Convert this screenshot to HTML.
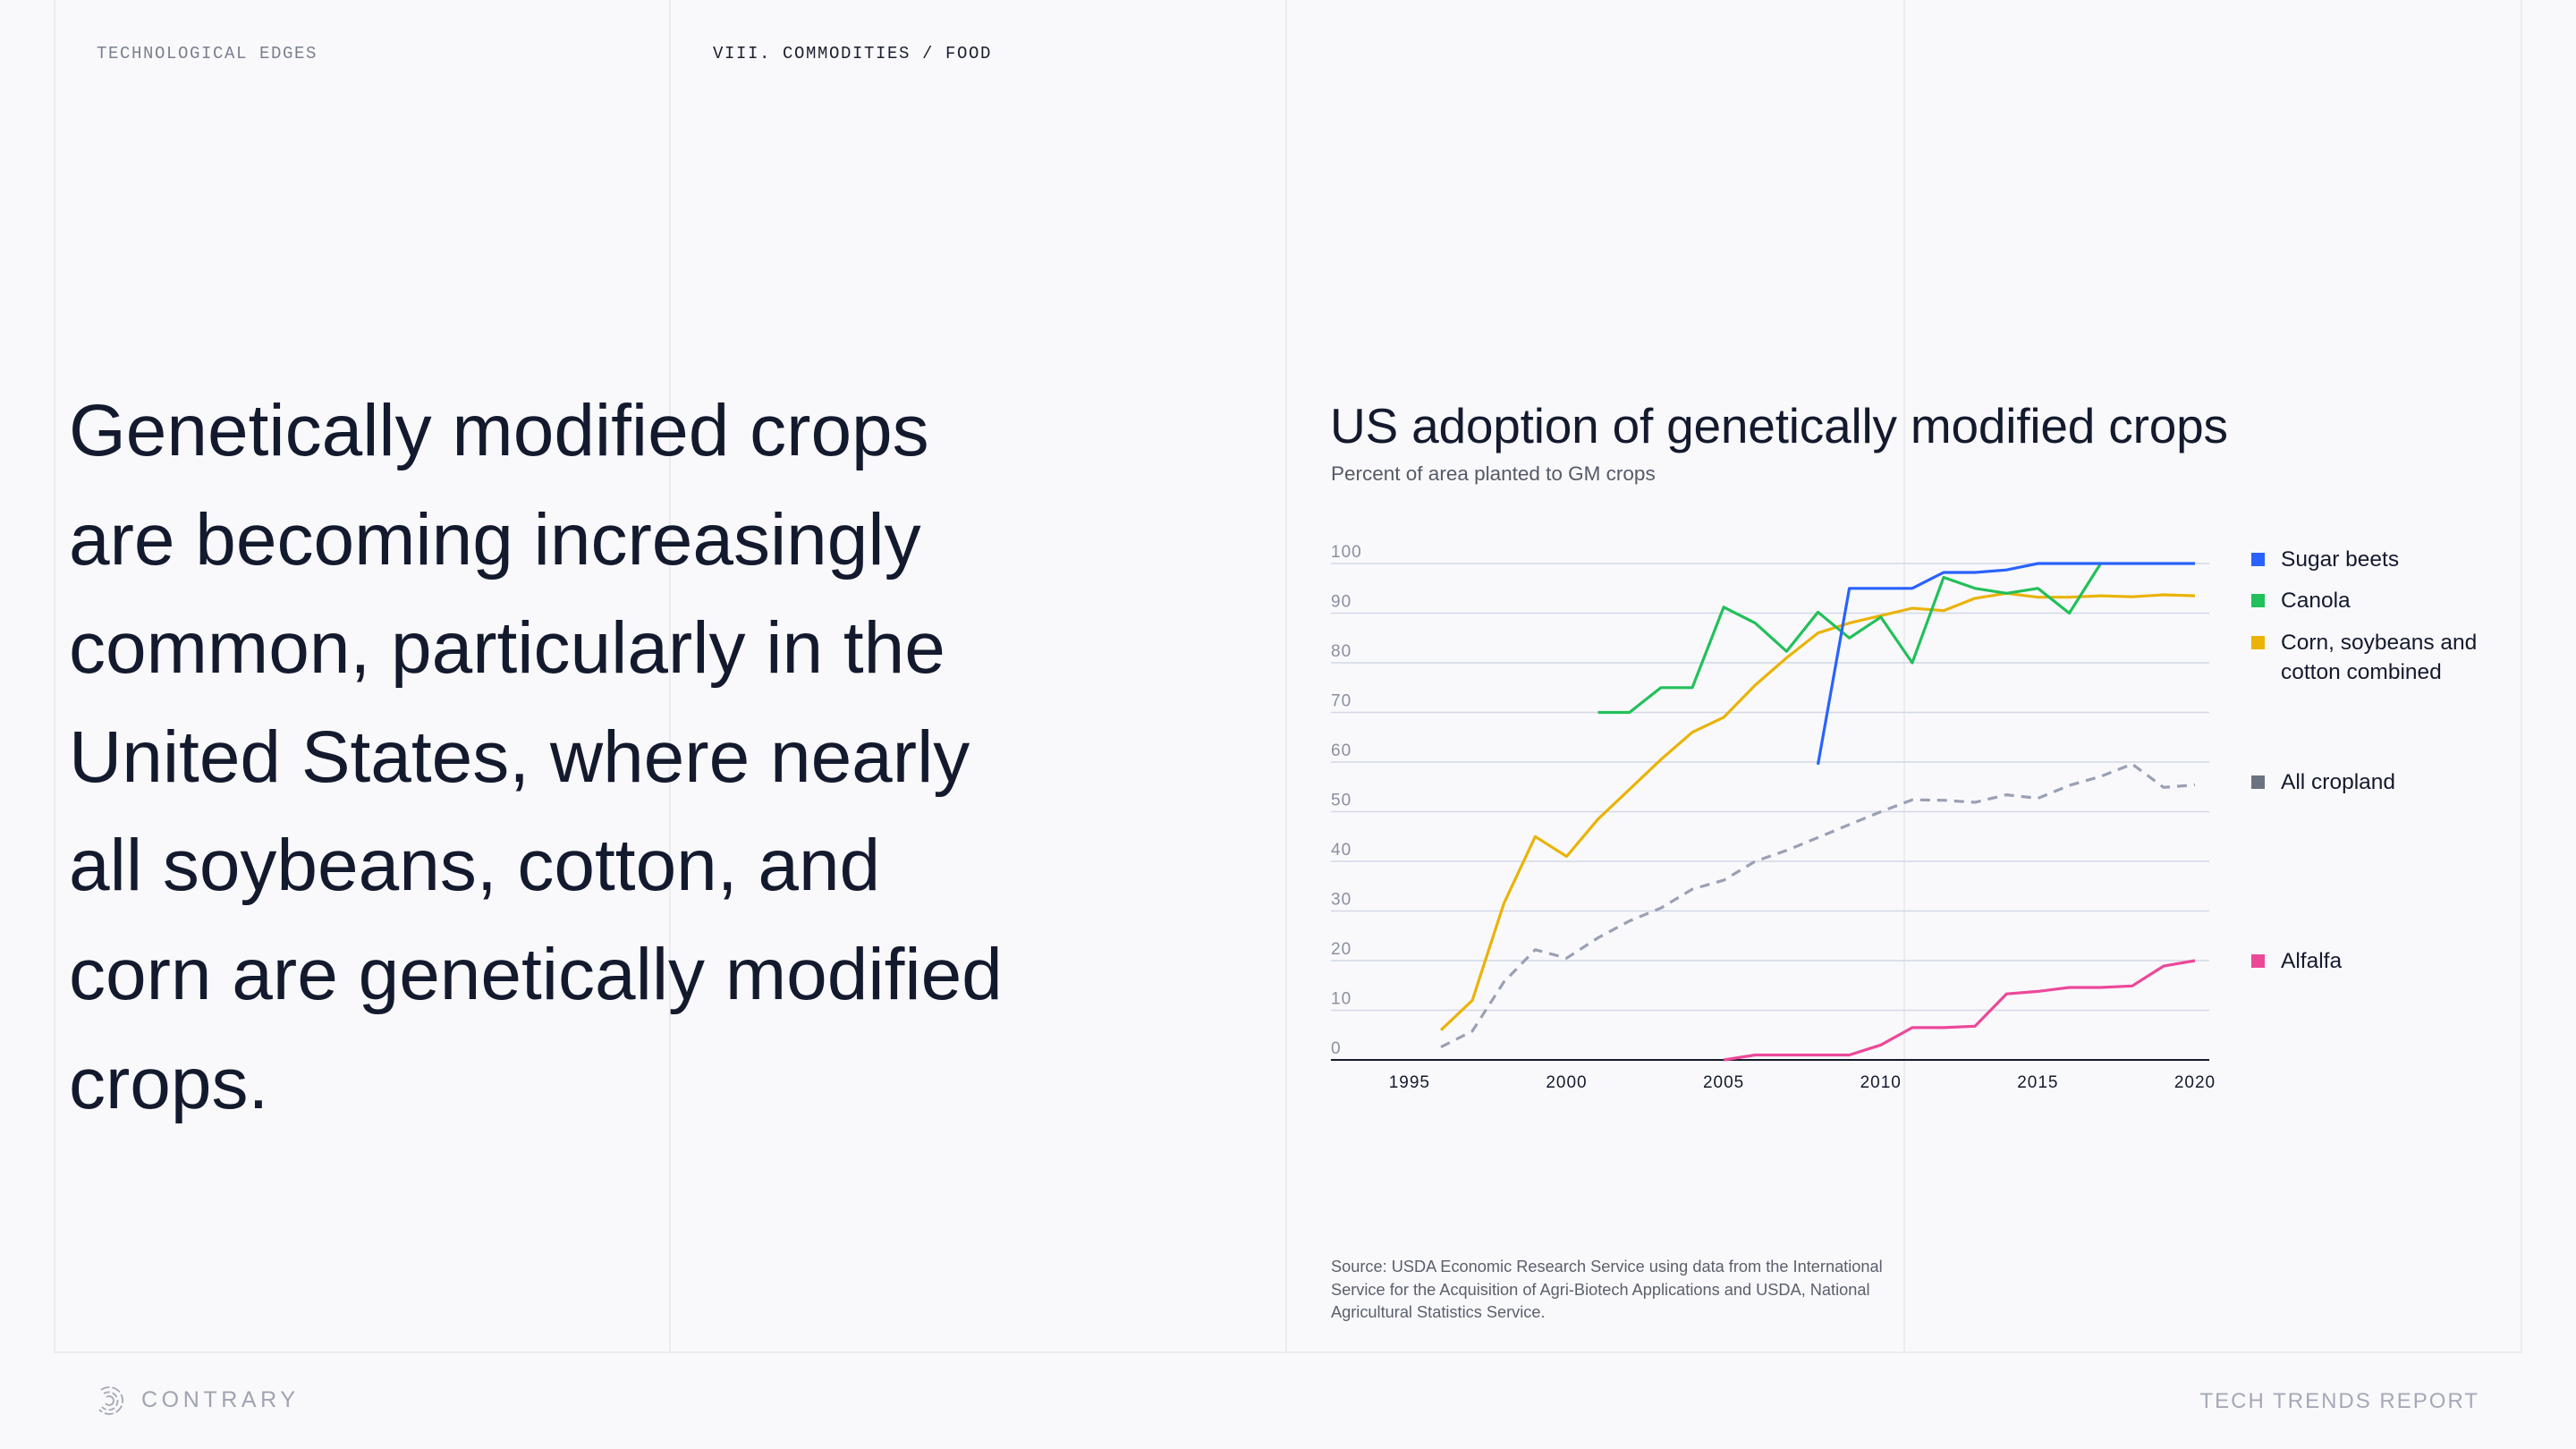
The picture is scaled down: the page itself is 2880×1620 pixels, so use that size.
<!DOCTYPE html>
<html><head><meta charset="utf-8">
<style>
html,body{margin:0;padding:0;}
body{width:2880px;height:1620px;background:#f9f9fb;position:relative;overflow:hidden;font-family:"Liberation Sans",sans-serif;color:#141a2e;}
.vl{position:absolute;top:0;width:2px;height:1512px;background:#ececf0;}
.hdr{position:absolute;top:49px;font-family:"Liberation Mono",monospace;font-size:19px;letter-spacing:1.6px;}
.headline{position:absolute;left:77px;top:421px;font-size:82px;line-height:121.6px;letter-spacing:0;color:#141a2e;margin:0;font-weight:normal;}
.leg{position:absolute;left:2550px;font-size:24.5px;line-height:33px;color:#141a2e;}
.sq{position:absolute;left:2517px;width:15px;height:15px;}
</style></head>
<body>
<div class="vl" style="left:60px"></div>
<div class="vl" style="left:748px"></div>
<div class="vl" style="left:1437px"></div>
<div class="vl" style="left:2128px"></div>
<div class="vl" style="left:2818px"></div>
<div style="position:absolute;left:60px;top:1511px;width:2760px;height:2px;background:#ececf0"></div>

<div class="hdr" style="left:108px;color:#7b8090">TECHNOLOGICAL EDGES</div>
<div class="hdr" style="left:797px;color:#1c2030">VIII. COMMODITIES / FOOD</div>

<h1 class="headline">Genetically modified crops<br>are becoming increasingly<br>common, particularly in the<br>United States, where nearly<br>all soybeans, cotton, and<br>corn are genetically modified<br>crops.</h1>

<div style="position:absolute;left:1487px;top:444px;font-size:55px;color:#141a2e;letter-spacing:-0.2px">US adoption of genetically modified crops</div>
<div style="position:absolute;left:1488px;top:517px;font-size:22.5px;color:#555a68">Percent of area planted to GM crops</div>

<svg id="chart" style="position:absolute;left:0;top:0" width="2880" height="1620"></svg>

<div class="sq" style="top:618px;background:#2962ff"></div>
<div class="leg" style="top:609px">Sugar beets</div>
<div class="sq" style="top:664px;background:#22c05a"></div>
<div class="leg" style="top:655px">Canola</div>
<div class="sq" style="top:711px;background:#eab308"></div>
<div class="leg" style="top:702px">Corn, soybeans and<br>cotton combined</div>
<div class="sq" style="top:867px;background:#6b7280"></div>
<div class="leg" style="top:858px">All cropland</div>
<div class="sq" style="top:1067px;background:#ec4899"></div>
<div class="leg" style="top:1058px">Alfalfa</div>

<div style="position:absolute;left:1488px;top:1404px;font-size:18.2px;line-height:25.7px;color:#5a5f6c">Source: USDA Economic Research Service using data from the International<br>Service for the Acquisition of Agri-Biotech Applications and USDA, National<br>Agricultural Statistics Service.</div>

<svg style="position:absolute;left:105px;top:1548px" width="36" height="36" viewBox="0 0 36 36">
<g fill="none" stroke="#a5a8b6" stroke-width="1.8">
<path d="M8 6 A15 15 0 1 1 6 28" stroke-dasharray="10 3"/>
<path d="M11 10 A10 10 0 1 1 9 25" stroke-dasharray="7 3"/>
<path d="M14 14 A5 5 0 1 1 13 21"/>
</g></svg>
<div style="position:absolute;left:158px;top:1551px;font-size:25px;letter-spacing:4.6px;color:#a0a3b1">CONTRARY</div>
<div style="position:absolute;right:108px;top:1553px;font-size:24px;letter-spacing:2px;color:#a5a8b6">TECH TRENDS REPORT</div>

<script>
const yearsAll = [1996,1997,1998,1999,2000,2001,2002,2003,2004,2005,2006,2007,2008,2009,2010,2011,2012,2013,2014,2015,2016,2017,2018,2019,2020];
const cornSoyCotton = [6,12,31.5,45,41,48.5,54.5,60.5,66,69,75.5,81,86,88,89.5,91,90.5,93,94,93.2,93.2,93.5,93.3,93.7,93.5];
const canolaYears = [2001,2002,2003,2004,2005,2006,2007,2008,2009,2010,2011,2012,2013,2014,2015,2016,2017];
const canola = [70,70,75,75,91.2,88,82.3,90.2,85,89.2,80,97.2,95,94,95,90,100];
const sugarYears = [2008,2009,2010,2011,2012,2013,2014,2015,2016,2017,2018,2019,2020];
const sugarBeets = [59.5,95,95,95,98.2,98.2,98.7,100,100,100,100,100,100];
const allCropland = [2.6,5.8,15.7,22.2,20.5,24.6,28,30.6,34.4,36.2,40,42.2,44.8,47.4,50,52.4,52.3,51.9,53.4,52.7,55.3,57.1,59.6,54.9,55.4];
const alfalfaYears = [2005,2006,2007,2008,2009,2010,2011,2012,2013,2014,2015,2016,2017,2018,2019,2020];
const alfalfa = [0,1,1,1,1,3,6.5,6.5,6.8,13.3,13.8,14.6,14.6,14.9,18.9,20];
const yTicks = [0,10,20,30,40,50,60,70,80,90,100];
const xTicks = [1995,2000,2005,2010,2015,2020];

const svg = document.getElementById('chart');
const NS = 'http://www.w3.org/2000/svg';
const X0 = 1611, X1 = 2454, Y0 = 1185, Y1 = 630;
function xs(yr){ return X0 + (yr - 1996) * (X1 - X0) / 24; }
function ys(v){ return Y0 - v * (Y0 - Y1) / 100; }
function mk(tag, attrs){ const e = document.createElementNS(NS, tag); for (const k in attrs) e.setAttribute(k, attrs[k]); svg.appendChild(e); return e; }

yTicks.forEach(t => {
  const ln = mk('line', {x1:1488, x2:2470, y1:ys(t), y2:ys(t), stroke: t===0 ? '#141a2e' : '#d3d8e8', 'stroke-width': t===0 ? 2 : 1.6});
  
  
  const tx = mk('text', {x:1488, y:ys(t)-7, 'font-size':19, fill:'#8a8f9f', 'letter-spacing':'1', 'font-family':'Liberation Sans, sans-serif'});
  tx.textContent = t;
  
  
});
xTicks.forEach(t => {
  const tx = mk('text', {x:xs(t), y:1216, 'font-size':19, fill:'#141a2e', 'text-anchor':'middle', 'letter-spacing':'1', 'font-family':'Liberation Sans, sans-serif'});
  tx.textContent = t;
  
  
});
function line(years, vals, color, name, dash){
  const pts = years.map((yr,i) => xs(yr).toFixed(1) + ',' + ys(vals[i]).toFixed(1)).join(' ');
  const attrs = {points:pts, fill:'none', stroke:color, 'stroke-width':3.2, 'stroke-linejoin':'round'};
  if (dash) attrs['stroke-dasharray'] = dash;
  const p = mk('polyline', attrs);
  
  
}
line(yearsAll, allCropland, '#9aa0b4', 'series-all-cropland', '11 8');
line(alfalfaYears, alfalfa, '#ec4899', 'series-alfalfa');
line(yearsAll, cornSoyCotton, '#eab308', 'series-corn-soy-cotton');
line(canolaYears, canola, '#22c05a', 'series-canola');
line(sugarYears, sugarBeets, '#2962ff', 'series-sugar-beets');
</script>
</body></html>
